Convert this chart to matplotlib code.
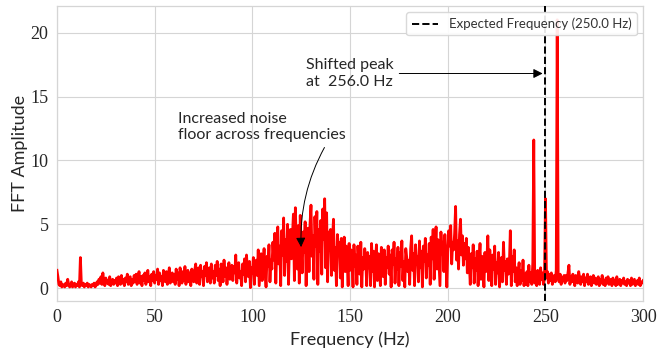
"""FFT-Spektrum mit verschobenem Peak (256 Hz statt 250 Hz)."""

import matplotlib

matplotlib.use("Agg")
import matplotlib.pyplot as plt
import numpy as np

# Frequenzraster 0..300 Hz in 0.5-Hz-Schritten
FREQ_STEP = 0.5
FREQ_MAX = 300.0

# FFT-Amplituden, eine Zeile = 10 Hz
amplitude = [
    1.4, 0.9, 0.3, 0.2, 0.5, 0.1, 0.3, 0.2, 0.1, 0.4, 0.2, 0.7, 0.3, 0.1, 0.2, 0.5, 0.1, 0.3, 0.4, 0.1,
    0.3, 0.2, 0.5, 0.1, 2.4, 0.3, 0.2, 0.4, 0.1, 0.3, 0.2, 0.4, 0.1, 0.3, 0.2, 0.1, 0.3, 0.2, 0.4, 0.1,
    0.2, 0.5, 0.3, 0.7, 0.4, 0.9, 0.3, 1.2, 0.5, 0.2, 0.8, 0.4, 0.6, 0.3, 0.9, 0.2, 0.5, 0.7, 0.3, 0.6,
    0.4, 0.8, 0.2, 0.9, 0.5, 0.3, 1.0, 0.4, 0.7, 0.2, 0.8, 0.5, 1.1, 0.3, 0.6, 0.9, 0.2, 0.7, 0.4, 1.0,
    0.5, 1.1, 0.3, 0.8, 1.3, 0.4, 0.9, 0.2, 1.0, 0.6, 1.2, 0.3, 0.7, 1.4, 0.5, 0.9, 0.2, 1.1, 0.6, 1.3,
    0.4, 1.0, 0.7, 1.5, 0.3, 1.2, 0.6, 0.9, 0.2, 1.4, 0.8, 0.5, 1.3, 0.3, 1.0, 1.6, 0.4, 0.8, 1.2, 0.5,
    1.1, 0.3, 1.5, 0.7, 1.2, 0.2, 1.6, 0.9, 0.4, 1.3, 0.6, 1.7, 0.3, 1.0, 1.4, 0.5, 1.2, 0.2, 1.5, 0.8,
    0.5, 1.4, 1.9, 0.4, 1.1, 1.6, 0.3, 1.8, 0.9, 1.3, 0.2, 1.7, 1.0, 2.0, 0.5, 1.2, 1.6, 0.4, 1.9, 0.8,
    1.3, 0.4, 1.8, 1.0, 2.1, 0.6, 1.5, 0.2, 1.9, 1.2, 0.5, 2.2, 0.9, 1.6, 0.3, 1.4, 2.0, 0.7, 1.1, 1.8,
    0.6, 1.7, 1.2, 2.6, 0.4, 1.5, 2.0, 0.8, 1.3, 0.2, 1.9, 1.1, 2.3, 0.5, 2.6, 1.4, 0.9, 2.1, 0.05, 1.6,
    1.2, 2.4, 0.3, 1.8, 2.2, 1.0, 3.0, 0.2, 1.5, 2.7, 0.6, 2.0, 3.1, 1.3, 0.1, 2.5, 1.7, 3.4, 0.5, 2.2,
    1.5, 3.6, 2.2, 4.3, 0.4, 3.0, 4.8, 1.9, 3.3, 0.2, 4.5, 2.6, 5.5, 1.0, 3.8, 2.1, 5.0, 0.3, 3.5, 4.6,
    2.3, 4.0, 5.8, 0.6, 6.3, 3.4, 1.5, 4.9, 0.4, 5.7, 3.1, 1.2, 4.4, 2.8, 5.2, 0.2, 3.6, 4.7, 1.3, 5.0,
    6.5, 2.5, 4.1, 0.7, 5.6, 3.3, 6.0, 0.3, 4.6, 2.9, 5.3, 1.1, 6.2, 3.8, 7.0, 1.6, 5.9, 0.5, 4.4, 3.0,
    4.6, 1.0, 3.7, 5.4, 1.4, 3.2, 0.2, 4.2, 2.6, 3.6, 0.8, 3.9, 0.1, 2.9, 4.0, 1.3, 3.3, 2.2, 0.2, 3.5,
    1.4, 3.0, 2.1, 0.1, 3.4, 1.7, 2.6, 0.3, 3.3, 2.0, 1.1, 3.6, 0.1, 2.4, 1.5, 3.1, 2.2, 0.2, 2.8, 1.6,
    2.5, 0.2, 3.5, 1.3, 2.9, 0.1, 2.2, 3.4, 0.6, 2.7, 1.8, 0.2, 3.2, 2.0, 0.9, 3.0, 0.3, 2.4, 1.6, 3.3,
    1.1, 2.6, 0.1, 3.0, 1.9, 3.6, 0.4, 2.3, 1.5, 3.2, 0.2, 2.8, 1.7, 3.7, 0.6, 2.1, 0.1, 3.1, 2.4, 1.3,
    2.2, 0.3, 3.1, 4.1, 1.4, 2.7, 0.2, 3.4, 1.9, 2.5, 0.5, 3.7, 1.6, 2.9, 0.1, 3.3, 2.1, 3.9, 0.8, 2.6,
    1.8, 3.5, 0.3, 4.0, 2.3, 4.6, 0.7, 3.0, 4.8, 1.5, 3.8, 2.0, 0.2, 4.4, 2.7, 3.6, 1.3, 4.2, 2.5, 0.1,
    2.8, 4.5, 3.3, 4.9, 1.9, 3.6, 3.0, 4.3, 6.4, 2.2, 3.7, 1.5, 4.2, 5.4, 2.6, 4.1, 1.8, 3.5, 2.3, 3.9,
    1.2, 3.2, 2.0, 0.3, 2.7, 1.6, 3.4, 0.4, 2.3, 1.4, 2.9, 0.2, 2.1, 3.5, 0.7, 2.5, 1.7, 0.1, 2.8, 1.3,
    2.2, 4.1, 0.6, 3.0, 1.8, 0.2, 2.6, 1.5, 3.3, 0.3, 2.0, 1.2, 2.8, 0.1, 1.7, 2.4, 0.5, 3.6, 1.4, 2.1,
    0.3, 2.3, 1.1, 1.8, 4.5, 0.2, 2.5, 1.3, 3.0, 0.5, 1.6, 0.2, 1.2, 2.0, 0.3, 1.4, 0.6, 2.2, 0.2, 1.1,
    0.3, 1.3, 0.2, 1.8, 0.5, 1.2, 0.3, 2.0, 11.6, 0.4, 1.0, 0.2, 1.4, 0.6, 0.3, 1.6, 0.7, 1.2, 0.3, 1.0,
    7.0, 0.8, 1.3, 0.4, 1.1, 0.6, 1.2, 0.3, 0.9, 1.0, 0.5, 1.4, 21.0, 0.7, 0.5, 1.1, 0.3, 0.8, 0.6, 1.0,
    0.4, 1.0, 0.6, 1.2, 1.8, 0.3, 0.9, 0.5, 1.1, 0.7, 0.2, 1.0, 0.6, 0.4, 1.3, 0.8, 0.3, 0.9, 0.5, 1.1,
    0.2, 0.8, 0.5, 1.1, 0.3, 0.7, 0.9, 0.2, 0.6, 1.0, 0.4, 0.8, 0.3, 0.5, 0.9, 0.2, 0.7, 0.4, 1.0, 0.3,
    0.6, 0.2, 0.8, 0.4, 0.9, 0.3, 0.5, 0.7, 0.2, 0.8, 0.4, 0.6, 0.2, 0.9, 0.3, 0.5, 0.7, 0.2, 0.6, 0.4,
    0.8, 0.3, 0.5, 0.2, 0.7, 0.4, 0.6, 0.2, 0.8, 0.3, 0.5, 0.7, 0.2, 0.4, 0.6, 0.3, 0.8, 0.2, 0.5, 0.4,
    0.6,
]

EXPECTED_FREQ = 250.0
SHIFTED_FREQ = 256.0

x_ticks = [0, 50, 100, 150, 200, 250, 300]
y_ticks = [0, 5, 10, 15, 20]

GRID_COLOR = "#d5d5d5"
TEXT_COLOR = "#262626"
TICK_FONT = "Liberation Serif"
LABEL_FONT = "Lato"

freqs = np.arange(0, FREQ_MAX + FREQ_STEP / 2, FREQ_STEP)

fig = plt.figure(figsize=(6.7, 3.49), dpi=100, facecolor="white")
ax = fig.add_axes([0.085, 0.1375, 0.875, 0.846])

ax.plot(freqs, amplitude, color="red", linewidth=2.0, zorder=3)

ax.axvline(
    x=EXPECTED_FREQ, color="black", linestyle="--", linewidth=1.4,
    zorder=4, label=f"Expected Frequency ({EXPECTED_FREQ:.1f} Hz)",
)

# Annotationen (linksbuendiger Text)
ax.annotate(
    f"Shifted peak\nat  {SHIFTED_FREQ:.1f} Hz",
    xy=(EXPECTED_FREQ, 16.8), xytext=(127.5, 16.8),
    ha="left", va="center", multialignment="left",
    fontsize=11.5, family=LABEL_FONT, color=TEXT_COLOR,
    arrowprops=dict(arrowstyle="-|>", color="black", lw=0.7, mutation_scale=14),
    zorder=5,
)
ax.annotate(
    "Increased noise\nfloor across frequencies",
    xy=(125, 3.0), xytext=(62, 12.6),
    ha="left", va="center", multialignment="left",
    fontsize=11.5, family=LABEL_FONT, color=TEXT_COLOR,
    arrowprops=dict(
        arrowstyle="-|>", color="black", lw=0.7, mutation_scale=14,
        connectionstyle="arc3,rad=0.15", relpos=(0.89, 0.0),
    ),
    zorder=5,
)

# Formatierung
ax.set_xlim(0, 300)
ax.set_ylim(-1.0, 22.1)
ax.set_xticks(x_ticks)
ax.set_yticks(y_ticks)
ax.set_xticklabels([str(t) for t in x_ticks], family=TICK_FONT, fontsize=13)
ax.set_yticklabels([str(t) for t in y_ticks], family=TICK_FONT, fontsize=13)
ax.tick_params(length=0, pad=6, colors=TEXT_COLOR)
ax.grid(True, color=GRID_COLOR, linewidth=0.8, zorder=0)
ax.set_axisbelow(True)
for spine in ax.spines.values():
    spine.set_color(GRID_COLOR)
    spine.set_linewidth(0.9)

ax.set_xlabel("Frequency (Hz)", family=LABEL_FONT, fontsize=13, color=TEXT_COLOR, labelpad=4)
ax.set_ylabel("FFT Amplitude", family=LABEL_FONT, fontsize=13, color=TEXT_COLOR, labelpad=2)

leg = ax.legend(
    loc="upper right", prop={"family": LABEL_FONT, "size": 9.5},
    framealpha=0.9, edgecolor=GRID_COLOR, fancybox=True,
)
for txt in leg.get_texts():
    txt.set_color("#333333")

plt.savefig("out.png", dpi=100, facecolor="white")
plt.close()
